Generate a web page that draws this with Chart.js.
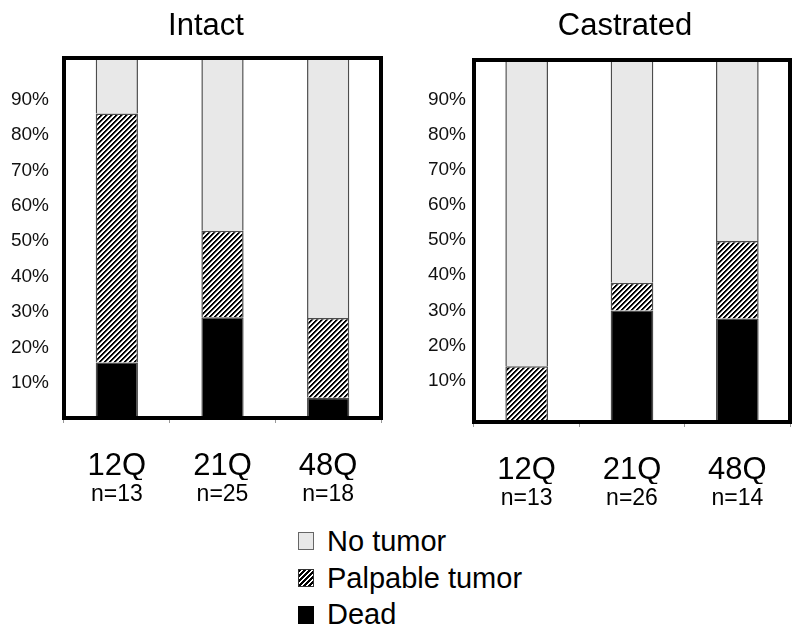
<!DOCTYPE html>
<html><head><meta charset="utf-8">
<script src="https://cdn.jsdelivr.net/npm/chart.js@4.4.1/dist/chart.umd.min.js"></script>
<style>
html,body{margin:0;padding:0;background:#fff;overflow:hidden;width:800px;height:636px}
#wrap{position:relative;width:800px;height:636px;overflow:hidden;background:#fff}
#c1{position:absolute;left:0;top:0}
#c2{position:absolute;left:410px;top:0}
#legend{position:absolute;left:298px;top:523px;font-family:'Liberation Sans',Arial,sans-serif;font-size:29px;color:#000}
.row{display:flex;align-items:center;height:36.7px;white-space:nowrap}
.sw{width:16px;height:18px;box-sizing:border-box;margin-right:13px;flex:none}
</style></head>
<body>
<div id="wrap">
<canvas id="c1" width="412" height="510"></canvas>
<canvas id="c2" width="430" height="514"></canvas>
<div id="legend"></div>
</div>
<script>
// ---- data ----
const categories = ['12Q', '21Q', '48Q'];
const intactN = ['n=13', 'n=25', 'n=18'];
const castratedN = ['n=13', 'n=26', 'n=14'];
const seriesNames = ['Dead', 'Palpable tumor', 'No tumor'];
const intactDead = [15.4, 28.0, 5.6];
const intactPalpable = [69.2, 24.0, 22.2];
const intactNoTumor = [15.4, 48.0, 72.2];
const castratedDead = [0, 30.8, 28.6];
const castratedPalpable = [15.4, 7.7, 21.4];
const castratedNoTumor = [84.6, 61.5, 50.0];
const yTickValues = [10, 20, 30, 40, 50, 60, 70, 80, 90];
const panelTitles = ['Intact', 'Castrated'];

const NARROW = "'Liberation Sans Narrow','Arial Narrow','Liberation Sans',sans-serif";
const REG = "'Liberation Sans',Arial,sans-serif";

function makeHatch(ctx) {
  const t = document.createElement('canvas');
  t.width = 5; t.height = 5;
  const g = t.getContext('2d');
  const img = g.createImageData(5, 5);
  for (let y = 0; y < 5; y++) for (let x = 0; x < 5; x++) {
    const k = (x + y) % 5;
    const v = k < 2 ? 0 : (k === 2 ? 140 : 255);
    const i = (y * 5 + x) * 4;
    img.data[i] = img.data[i + 1] = img.data[i + 2] = v; img.data[i + 3] = 255;
  }
  g.putImageData(img, 0, 0);
  return ctx.createPattern(t, 'repeat');
}

const framePlugin = {
  id: 'frame',
  afterDatasetsDraw(chart) {
    const { ctx, chartArea: a } = chart;
    ctx.save();
    ctx.lineWidth = 4;
    ctx.strokeStyle = '#000';
    ctx.strokeRect(a.left, a.top, a.right - a.left, a.bottom - a.top);
    ctx.restore();
  }
};

function makeChart(id, title, nLabels, dead, palp, none, g) {
  const ctx = document.getElementById(id).getContext('2d');
  const hatch = makeHatch(ctx);
  const common = { borderColor: '#4d4d4d', borderWidth: 1.5 };
  return new Chart(ctx, {
    type: 'bar',
    data: {
      labels: categories,
      datasets: [
        Object.assign({ label: seriesNames[0], data: dead, backgroundColor: '#000' }, common),
        Object.assign({ label: seriesNames[1], data: palp, backgroundColor: hatch }, common),
        Object.assign({ label: seriesNames[2], data: none, backgroundColor: '#e8e8e8' }, common)
      ]
    },
    options: {
      responsive: false, animation: false, devicePixelRatio: 1,
      layout: { padding: 0 },
      datasets: { bar: { barPercentage: g.barPct, categoryPercentage: 1 } },
      plugins: {
        legend: { display: false }, tooltip: { enabled: false },
        title: { display: true, text: title, color: '#000',
          font: { family: NARROW, size: 31, weight: 'normal', lineHeight: 1.2 },
          padding: { top: 7.4, bottom: g.titleBottom } }
      },
      scales: {
        x: { stacked: true, offset: true,
          grid: { display: true, drawOnChartArea: false, drawTicks: true, tickLength: 5, color: '#999', offset: true },
          border: { display: false },
          ticks: { font: { family: NARROW, size: 31 }, color: '#000', padding: 25, maxRotation: 0 },
          afterFit(s) { s.height = 62; } },
        x2: { type: 'category', labels: nLabels, position: 'bottom', offset: true,
          grid: { display: false, drawTicks: false }, border: { display: false },
          ticks: { font: { family: NARROW, size: 23 }, color: '#000', padding: 1, maxRotation: 0 },
          afterFit(s) { s.height = g.x2H; } },
        y: { stacked: true, min: 0, max: 100, display: false },
        yl: { type: 'linear', position: 'left', min: g.ylMin, max: g.ylMax,
          grid: { display: false, drawTicks: false }, border: { display: false },
          afterBuildTicks(s) { s.ticks = yTickValues.map(v => ({ value: v })); },
          ticks: { font: { family: REG, size: 19 }, color: '#111', padding: g.yPad, callback: v => v + '%' },
          afterFit(s) { s.width = 64; } },
        yr: { type: 'linear', position: 'right', display: true,
          grid: { display: false, drawTicks: false }, border: { display: false },
          ticks: { display: false }, afterFit(s) { s.width = g.rightW; } }
      }
    },
    plugins: [framePlugin]
  });
}

makeChart('c1', panelTitles[0], intactN, intactDead, intactPalpable, intactNoTumor,
  { barPct: 0.4, titleBottom: 13.4, x2H: 30, ylMin: 0.1, ylMax: 101.7, yPad: 15, rightW: 31 });
makeChart('c2', panelTitles[1], castratedN, castratedDead, castratedPalpable, castratedNoTumor,
  { barPct: 0.405, titleBottom: 15.4, x2H: 30, ylMin: -1.8, ylMax: 101.3, yPad: 8, rightW: 50 });

// legend (top to bottom)
const legendItems = [
  { name: seriesNames[2], style: 'background:#e8e8e8;border:1.5px solid #666' },
  { name: seriesNames[1], style: 'background:repeating-linear-gradient(135deg,#000 0 1.6px,#fff 1.6px 3.5px);border:1.5px solid #333' },
  { name: seriesNames[0], style: 'background:#000;border:1.5px solid #000' }
];
const lg = document.getElementById('legend');
legendItems.forEach(it => {
  const r = document.createElement('div'); r.className = 'row';
  const s = document.createElement('span'); s.className = 'sw'; s.setAttribute('style', it.style);
  const t = document.createElement('span'); t.textContent = it.name;
  r.appendChild(s); r.appendChild(t); lg.appendChild(r);
});
</script>
</body></html>
